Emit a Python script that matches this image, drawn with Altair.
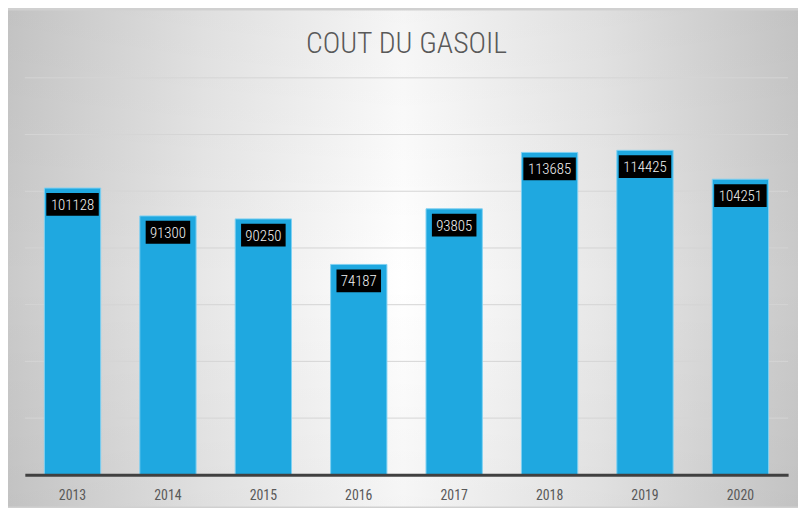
import altair as alt
import pandas as pd

years = ["2013", "2014", "2015", "2016", "2017", "2018", "2019", "2020"]
values = [101128, 91300, 90250, 74187, 93805, 113685, 114425, 104251]
labels = [str(v) for v in values]
grid_values = [20000, 40000, 60000, 80000, 100000, 120000, 140000]
title_text = "COUT DU GASOIL"

df = pd.DataFrame({"year": years, "value": values, "label": labels})
gdf = pd.DataFrame({"g": grid_values})

W, H = 771, 401
PL, PT, PR, PB = 17, 68, 10, 32
NARROW = "Liberation Sans Narrow, Roboto Condensed, DejaVu Sans Condensed, sans-serif"

x_enc = alt.X("year:N", sort=years,
              scale=alt.Scale(paddingInner=0.41, paddingOuter=0.205),
              axis=alt.Axis(title=None, labelAngle=0, domainColor="#404040", domainWidth=3,
                            ticks=False, labelPadding=14, labelFontSize=14, labelColor="#595959",
                            labelFont=NARROW, grid=False, zindex=1))
y_scale = alt.Scale(domain=[0, 140000])

one = pd.DataFrame({"t": [title_text]})

bg_h = alt.Chart(one).mark_rect(
    color=alt.LinearGradient(gradient="linear",
                             stops=[alt.GradientStop(offset=0.0, color="#cacaca"),
                                    alt.GradientStop(offset=0.25, color="#e8e8e8"),
                                    alt.GradientStop(offset=0.5, color="#ffffff"),
                                    alt.GradientStop(offset=0.75, color="#e8e8e8"),
                                    alt.GradientStop(offset=1.0, color="#cacaca")],
                             x1=0, y1=0.5, x2=1, y2=0.5)
).encode(x=alt.value(-PL), x2=alt.value(W + PR), y=alt.value(-PT), y2=alt.value(H + PB))

bg_v = alt.Chart(one).mark_rect(
    color=alt.LinearGradient(gradient="linear",
                             stops=[alt.GradientStop(offset=0.0, color="rgba(0,0,0,0.04)"),
                                    alt.GradientStop(offset=0.55, color="rgba(0,0,0,0)"),
                                    alt.GradientStop(offset=1.0, color="rgba(0,0,0,0.04)")],
                             x1=0.5, y1=0, x2=0.5, y2=1)
).encode(x=alt.value(-PL), x2=alt.value(W + PR), y=alt.value(-PT), y2=alt.value(H + PB))

title = alt.Chart(one).mark_text(
    fontSize=30, font=NARROW, fontWeight=300, color="#595959",
    align="center", baseline="middle"
).encode(x=alt.value(W / 2), y=alt.value(-34), text="t:N")

grid = alt.Chart(gdf).mark_rule(color="#d4d4d4", strokeWidth=1).encode(
    y=alt.Y("g:Q", scale=y_scale, axis=None),
    x=alt.value(0), x2=alt.value(W),
)

bars = alt.Chart(df).mark_bar(color="#1fa8e0", stroke="#7fd0f2", strokeWidth=1).encode(
    x=x_enc, y=alt.Y("value:Q", scale=y_scale, axis=None)
)

box6 = alt.Chart(df).transform_filter("length(datum.label) == 6").mark_rect(
    color="#000000", width=53, height=23, yOffset=16.5
).encode(x=x_enc, y=alt.Y("value:Q", scale=y_scale, axis=None))

box5 = alt.Chart(df).transform_filter("length(datum.label) == 5").mark_rect(
    color="#000000", width=45, height=23, yOffset=16.5
).encode(x=x_enc, y=alt.Y("value:Q", scale=y_scale, axis=None))

text = alt.Chart(df).mark_text(
    color="#f2f2f2", fontSize=15, font=NARROW, fontWeight=300, baseline="middle", align="center", dy=17
).encode(x=x_enc, y=alt.Y("value:Q", scale=y_scale, axis=None), text="label:N")

chart = alt.layer(bg_h, bg_v, title, grid, bars, box6, box5, text).properties(
    width=W, height=H,
    autosize=alt.AutoSizeParams(type="none"),
    padding={"left": PL, "top": PT, "right": PR, "bottom": PB},
).configure_view(stroke=None).configure(background="#d0d0d0")

chart.save("out.html", embed_options={"renderer": "svg", "actions": False})
